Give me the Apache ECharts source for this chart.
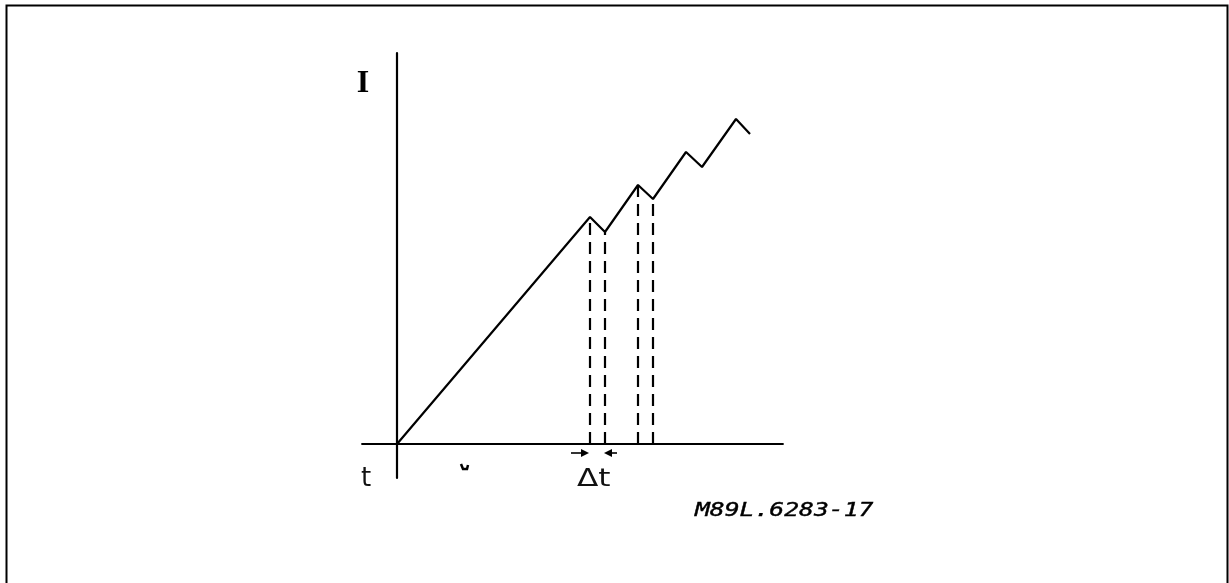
<!DOCTYPE html>
<html>
<head>
<meta charset="utf-8">
<title>Current ramp with Δt steps</title>
<script src="https://cdn.jsdelivr.net/npm/echarts@6/dist/echarts.min.js"></script>
<style>
  html, body { margin: 0; padding: 0; background: #fff; }
  #chart { width: 1229px; height: 583px; }
</style>
</head>
<body>
<div id="chart"></div>
<script>
// Time (t) and current (I) at each corner of the waveform, arbitrary units
const times   = [0, 19.3, 20.8, 24.1, 25.6, 28.9, 30.5, 33.9, 35.3];
const current = [0, 22.7, 21.2, 25.9, 24.5, 29.2, 27.7, 32.5, 31.0];

// Corners that get a dashed drop line to the time axis
const dropIdx = [1, 2, 3, 4];

// Δt marker arrows just under the axis: [from t, to t] (arrowhead centred on the end point)
const arrowLevel = -0.9;
const deltaArrows = [[17.4, 18.8], [22.0, 21.1]];

// Axis titles and drawing code
const axisLabelI = 'I';
const axisLabelT = 't';
const deltaLabel = 'Δt';
const drawingCode = 'M89L.6283-17';

const chart = echarts.init(document.getElementById('chart'), null, { renderer: 'canvas' });

const waveform = times.map((t, i) => [t, current[i]]);

const dropLines = dropIdx.map(i => [
  { coord: [times[i], 0] },
  { coord: [times[i], current[i]] }
]);

const arrowLines = deltaArrows.map(([a, b]) => [
  { coord: [a, arrowLevel] },
  { coord: [b, arrowLevel] }
]);

chart.setOption({
  animation: false,
  backgroundColor: '#ffffff',
  grid: { left: 362, right: 446, top: 53, bottom: 105, containLabel: false },
  xAxis: {
    type: 'value', min: -3.5, max: 38.6,
    axisLine: { show: true, onZero: true, lineStyle: { color: '#000', width: 1.8 } },
    axisTick: { show: false }, axisLabel: { show: false }, splitLine: { show: false }
  },
  yAxis: {
    type: 'value', min: -3.4, max: 39.1,
    axisLine: { show: true, onZero: true, lineStyle: { color: '#000', width: 2.2 } },
    axisTick: { show: false }, axisLabel: { show: false }, splitLine: { show: false }
  },
  series: [
    {
      type: 'line',
      data: waveform,
      showSymbol: false,
      symbol: 'none',
      lineStyle: { color: '#000', width: 2.2 },
      silent: true,
      markLine: {
        silent: true,
        symbol: ['none', 'none'],
        label: { show: false },
        lineStyle: { color: '#000', width: 2.2, type: [12, 7] },
        data: dropLines
      }
    },
    {
      type: 'line',
      data: [],
      silent: true,
      markLine: {
        silent: true,
        symbol: ['none', 'triangle'],
        symbolSize: 8,
        label: { show: false },
        itemStyle: { color: '#000' },
        lineStyle: { color: '#000', width: 1.6, type: 'solid' },
        data: arrowLines
      }
    }
  ],
  graphic: [
    {
      type: 'rect',
      shape: { x: 6.5, y: 5.5, width: 1221, height: 640 },
      style: { fill: 'none', stroke: '#000', lineWidth: 2 },
      silent: true
    },
    {
      type: 'text', x: 363, y: 84,
      style: { text: axisLabelI, font: 'bold 32px "Liberation Serif"', fill: '#000', align: 'center', verticalAlign: 'middle' }
    },
    {
      type: 'text', x: 366, y: 479,
      style: { text: axisLabelT, font: '26px "DejaVu Sans"', fill: '#111', align: 'center', verticalAlign: 'middle' }
    },
    {
      type: 'text', x: 577, y: 480, scaleX: 1.3,
      style: { text: deltaLabel, font: '24px "DejaVu Sans"', fill: '#111', align: 'left', verticalAlign: 'middle' }
    },
    {
      type: 'text', x: 695, y: 511, scaleX: 1.3,
      style: { text: drawingCode, font: 'italic 19px "DejaVu Sans Mono"', fill: '#000', align: 'left', verticalAlign: 'middle', stroke: '#000', lineWidth: 0.4 }
    },
    {
      type: 'polyline',
      shape: { points: [[461, 464], [463, 469], [467, 469], [468, 465]] },
      style: { stroke: '#000', lineWidth: 2.5, fill: 'none' },
      silent: true
    }
  ]
});
</script>
</body>
</html>
